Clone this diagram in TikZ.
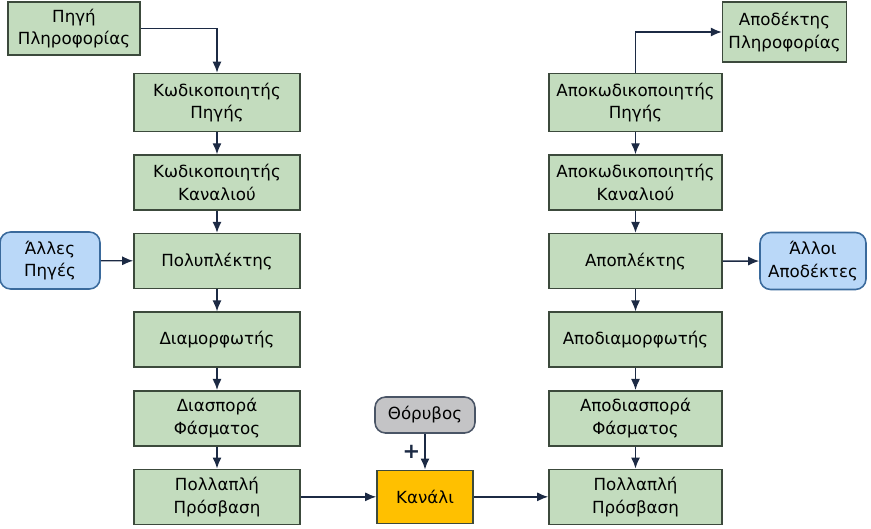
\documentclass[tikz,border=0pt]{standalone}
\usepackage{fontspec}
\setmainfont{DejaVu Sans}
\usepackage{xcolor}
\usepackage{tikz}
\usetikzlibrary{arrows.meta, positioning}
\definecolor{BlockGreen}{HTML}{C3DCBE}
\definecolor{BlockEdge}{HTML}{3C4A3C}
\definecolor{SideBlue}{HTML}{BAD8F8}
\definecolor{SideEdge}{HTML}{3A6A9C}
\definecolor{NoiseGray}{HTML}{C4C4C6}
\definecolor{NoiseEdge}{HTML}{4A5566}
\definecolor{ChanOrange}{HTML}{FFC000}
\definecolor{ArrowNavy}{HTML}{1C2A44}

\begin{document}
\begin{tikzpicture}[
    x=0.02cm, y=-0.02cm,
    node distance=0.44cm,
    block/.style={rectangle, draw=BlockEdge, line width=0.9pt, fill=BlockGreen, minimum width=3.32cm, minimum height=1.1cm, align=center, font=\fontsize{9.5}{13}\selectfont},
    rblock/.style={block, minimum width=3.46cm},
    side/.style={rectangle, rounded corners=6pt, draw=SideEdge, line width=0.9pt, fill=SideBlue, minimum height=1.14cm, align=center, font=\fontsize{9.5}{13}\selectfont},
    arrow/.style={-{Latex[length=2.2mm, width=1.8mm]}, line width=0.8pt, color=ArrowNavy}
]
\useasboundingbox (0,0) rectangle (871,528);

% transmitter side
\node[block, minimum width=2.64cm, minimum height=1.06cm] (src) at (74,28.5) {Πηγή\\Πληροφορίας};
\node[block, minimum height=1.16cm] (encs) at (217,102.5) {Κωδικοποιητής\\Πηγής};
\node[block, below=of encs] (encc) {Κωδικοποιητής\\Καναλιού};
\node[block, below=of encc] (mux) {Πολυπλέκτης};
\node[block, below=of mux] (mod) {Διαμορφωτής};
\node[block, below=of mod] (ss) {Διασπορά\\Φάσματος};
\node[block, below=of ss] (mac) {Πολλαπλή\\Πρόσβαση};
\node[side, minimum width=2cm] (oth) at (50,260.5) {Άλλες\\Πηγές};

% channel
\node[rectangle, rounded corners=6pt, draw=NoiseEdge, line width=0.9pt, fill=NoiseGray, minimum width=2cm, minimum height=0.72cm, font=\fontsize{9.5}{13}\selectfont] (noise) at (425,415) {Θόρυβος};
\node[rectangle, draw=BlockEdge, line width=0.9pt, fill=ChanOrange, minimum width=1.92cm, minimum height=1.06cm, font=\fontsize{9.5}{13}\selectfont] (chan) at (noise |- mac) {Κανάλι};

% receiver side
\node[block, minimum width=2.38cm, minimum height=1.2cm] (dst) at (784.5,32) {Αποδέκτης\\Πληροφορίας};
\node[rblock, minimum height=1.16cm] (decs) at (635.5,102.5) {Αποκωδικοποιητής\\Πηγής};
\node[rblock, below=of decs] (decc) {Αποκωδικοποιητής\\Καναλιού};
\node[rblock, below=of decc] (demux) {Αποπλέκτης};
\node[rblock, below=of demux] (demod) {Αποδιαμορφωτής};
\node[rblock, below=of demod] (dss) {Αποδιασπορά\\Φάσματος};
\node[rblock, below=of dss] (dmac) {Πολλαπλή\\Πρόσβαση};
\node[side, minimum width=2.12cm] (othr) at (813,261) {Άλλοι\\Αποδέκτες};

\draw[arrow] (src.east) -| (encs.north);
\foreach \i/\j in {encs/encc,encc/mux,mux/mod,mod/ss,ss/mac}{\draw[arrow] (\i) -- (\j);}
\draw[arrow] (oth) -- (mux);
\draw[arrow] (mac) -- (chan);
\draw[arrow] (noise) -- node[left, font=\large\bfseries, xshift=1pt] (plus) {+} (chan);
\draw[arrow] (chan) -- (dmac);
\foreach \i/\j in {decs/decc,decc/demux,demux/demod,demod/dss,dss/dmac}{\draw[arrow] (\i) -- (\j);}
\draw[arrow] (demux) -- (othr);
\draw[arrow] (decs.north) |- (dst.west);

\end{tikzpicture}
\end{document}
